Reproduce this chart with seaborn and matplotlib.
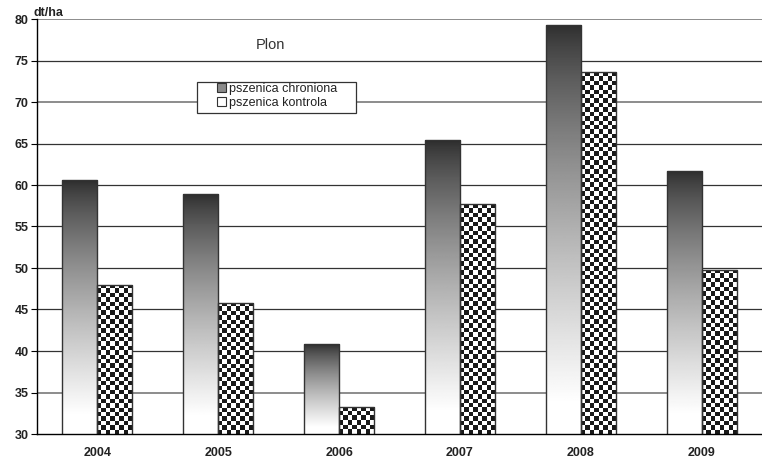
import numpy as np
import pandas as pd
import seaborn as sns
import matplotlib.pyplot as plt
from matplotlib.patches import Patch, Rectangle

years = ['2004', '2005', '2006', '2007', '2008', '2009']
chroniona = [60.6, 58.9, 40.8, 65.4, 79.3, 61.7]
kontrola = [48.0, 45.8, 33.3, 57.7, 73.6, 49.8]
series = ['pszenica chroniona', 'pszenica kontrola']

df = pd.DataFrame({
    'rok': years * 2,
    'plon': chroniona + kontrola,
    'seria': [series[0]] * len(years) + [series[1]] * len(years),
})

sns.set_style('white')
plt.rcParams['font.family'] = ['Liberation Sans', 'DejaVu Sans']

W, H = 762, 461
fig = plt.figure(figsize=(W / 100, H / 100), dpi=100)
ax = fig.add_axes([37 / W, 1 - 434 / H, 725 / W, 415 / H])

sns.barplot(data=df, x='rok', y='plon', hue='seria', hue_order=series,
            palette=['white', 'white'], edgecolor='#333333', linewidth=1.0,
            width=0.58, gap=0, legend=False, ax=ax)

ax.set_ylim(30, 80)
ax.set_xlim(-0.5, len(years) - 0.5)
yt = np.arange(30, 81, 5)
ax.set_yticks(yt)
ax.yaxis.grid(False)
ax.xaxis.grid(False)

# gridlines: some print lighter/thicker in the original
for v in yt[1:]:
    if v in (80, 70, 35):
        ax.axhline(v, color='#8c8c8c', linewidth=1.4, zorder=0.5)
    else:
        ax.axhline(v, color='#333333', linewidth=0.9, zorder=0.5)

# gradient / checkerboard fill, clipped to each bar
t = np.linspace(0, 1, 256)
grad = np.clip(0.17 + 0.88 * t ** 0.75, 0, 1).reshape(-1, 1)
px_per_unit = 415 / 50
cell = 4.4
n = len(years)
for i, p in enumerate(list(ax.patches)):
    x0, y0 = p.get_x(), p.get_y()
    w, h = p.get_width(), p.get_height()
    top = y0 + h
    p.set_facecolor('none')
    p.set_zorder(2)
    if i < n:
        img = grad
        interp = 'bilinear'
    else:
        rows = max(1, int(round((top - 30) * px_per_unit / cell)))
        chk = np.add.outer(np.arange(rows), np.arange(8)) % 2
        img = np.where(chk > 0, 0.1, 1.0)
        interp = 'nearest'
    im = ax.imshow(img, cmap='gray', vmin=0, vmax=1, aspect='auto',
                   extent=[x0, x0 + w, 30, top], origin='upper',
                   interpolation=interp, zorder=1.5)
    im.set_clip_path(p)

for s in ['top', 'right']:
    ax.spines[s].set_visible(False)
for s in ['left', 'bottom']:
    ax.spines[s].set_color('black')
    ax.spines[s].set_linewidth(1.0)
    ax.spines[s].set_zorder(3)

ax.set_xticks(np.arange(-0.5, len(years)), minor=True)
ax.tick_params(axis='x', which='major', length=0, pad=9)
ax.tick_params(axis='x', which='minor', length=4, direction='out', color='black')
ax.tick_params(axis='y', length=4, direction='out', color='black', pad=2, left=True)
ax.set_xlabel('')
ax.set_ylabel('')
for lab in ax.get_xticklabels() + ax.get_yticklabels():
    lab.set_fontweight('bold')
    lab.set_fontsize(9)
    lab.set_color('#222222')

fig.text(34 / W, 1 - 12.5 / H, 'dt/ha', fontsize=9, fontweight='bold', va='center', color='#222222')
fig.text(270 / W, 1 - 45 / H, 'Plon', fontsize=10.5, ha='center', va='center', color='#333333')

handles = [Patch(facecolor='#8a8a8a', edgecolor='#333333', linewidth=0.8),
           Patch(facecolor='white', edgecolor='#333333', linewidth=0.8)]
leg = fig.legend(handles, series, loc='upper left',
                 bbox_to_anchor=(217 / W, 1 - 83 / H), bbox_transform=fig.transFigure,
                 fontsize=9, frameon=False, borderpad=0,
                 handlelength=0.7, handleheight=0.7, handletextpad=0.25,
                 labelspacing=0.15, borderaxespad=0)
for txt in leg.get_texts():
    txt.set_color('#222222')
fig.patches.append(Rectangle((197 / W, 1 - 113 / H), 159 / W, 31 / H,
                             transform=fig.transFigure, facecolor='white',
                             edgecolor='#333333', linewidth=0.9, zorder=2.5))
leg.set_zorder(3)

fig.savefig('out.png', dpi=100)
